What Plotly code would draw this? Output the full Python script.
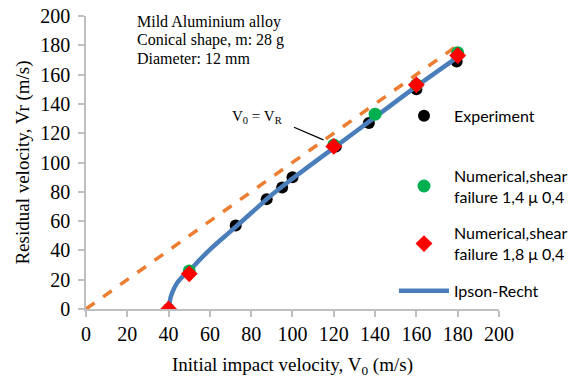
import plotly.graph_objects as go

# Data
exp_v0 = [40, 50, 72.5, 87.5, 95, 100, 121, 137, 160, 179.5]
exp_vr = [0, 25, 57, 75, 83, 90, 111, 127, 150, 169]

num14_v0 = [50, 120, 140, 160, 180]
num14_vr = [26, 112, 133, 153, 175]

num18_v0 = [40, 50, 120, 160, 180]
num18_vr = [0, 24, 111, 153, 173]

ipson_v0 = [40, 41, 42, 44, 46, 50, 55, 60, 70, 80, 90, 100, 120, 140, 160, 181]
ipson_vr = [0, 8, 12, 17.5, 21, 26, 33.5, 40.5, 53, 65.5, 78, 89, 110, 131, 152, 173]

ref_v0 = [0, 180]
ref_vr = [0, 180]

x_ticks = [0, 20, 40, 60, 80, 100, 120, 140, 160, 180, 200]
y_ticks = [0, 20, 40, 60, 80, 100, 120, 140, 160, 180, 200]

info_lines = ["Mild Aluminium alloy", "Conical shape, m: 28 g", "Diameter: 12 mm"]

serif = "Liberation Serif"
sans = "Lato"
axis_col = "#BFBFBF"

fig = go.Figure()
fig.add_trace(go.Scatter(x=ref_v0, y=ref_vr, mode="lines", showlegend=False,
                         line=dict(color="#ED7D31", width=3.5, dash="dash")))
fig.add_trace(go.Scatter(x=exp_v0, y=exp_vr, mode="markers", name="Experiment",
                         legend="legend",
                         marker=dict(color="black", size=12, symbol="circle")))
fig.add_trace(go.Scatter(x=ipson_v0, y=ipson_vr, mode="lines", name="Ipson-Recht",
                         legend="legend2", legendrank=3, legendgroup="g3",
                         line=dict(color="#4A7EBB", width=4.5, shape="spline")))
fig.add_trace(go.Scatter(x=num14_v0, y=num14_vr, mode="markers",
                         name="Numerical,shear<br>failure 1,4 μ 0,4",
                         legend="legend2", legendrank=1, legendgroup="g1",
                         marker=dict(color="#00B050", size=13, symbol="circle")))
fig.add_trace(go.Scatter(x=num18_v0, y=num18_vr, mode="markers",
                         name="Numerical,shear<br>failure 1,8 μ 0,4",
                         legend="legend2", legendrank=2, legendgroup="g2",
                         marker=dict(color="#FF0000", size=13, symbol="diamond")))

leg_font = dict(family=sans, size=16, color="black")

fig.update_layout(
    width=570, height=372,
    margin=dict(l=78, r=0, t=8, b=71, autoexpand=False),
    plot_bgcolor="white", paper_bgcolor="white",
    showlegend=True,
    legend=dict(x=0.626, y=0.659, xanchor="left", yanchor="middle",
                bgcolor="rgba(0,0,0,0)", font=leg_font, itemwidth=50),
    legend2=dict(x=0.626, y=0.513, xanchor="left", yanchor="top",
                 bgcolor="rgba(0,0,0,0)", font=leg_font, itemwidth=50,
                 tracegroupgap=13, traceorder="grouped"),
    xaxis=dict(range=[0, 200], tickvals=x_ticks, showgrid=False, zeroline=False,
               automargin=False, domain=[0, 0.8394],
               showline=True, linecolor=axis_col, linewidth=1.5,
               ticks="outside", ticklen=6, tickcolor=axis_col, tickwidth=1.5,
               ticklabeloverflow="allow",
               tickfont=dict(family=serif, size=20, color="black"),
               title=dict(text="Initial impact velocity, V<sub>0</sub> (m/s)",
                          font=dict(family=serif, size=19, color="black"), standoff=14)),
    yaxis=dict(range=[0, 200], tickvals=y_ticks, showgrid=False, zeroline=False,
               automargin=False,
               showline=True, linecolor=axis_col, linewidth=1.5,
               ticks="outside", ticklen=6, tickcolor=axis_col, tickwidth=1.5,
               ticklabelstandoff=4, ticklabeloverflow="allow",
               tickfont=dict(family=serif, size=20, color="black"),
               title=dict(text="Residual velocity, Vr (m/s)",
                          font=dict(family=serif, size=19, color="black"), standoff=6)),
)

for line, yp in zip(info_lines, [0.981, 0.919, 0.856]):
    fig.add_annotation(x=0.0996, y=yp, xref="paper", yref="paper", xanchor="left",
                       yanchor="middle", showarrow=False, align="left", text=line,
                       font=dict(family=serif, size=16, color="black"))

fig.add_annotation(x=115, y=115.5, ax=100, ay=124.5, axref="x", ayref="y",
                   xref="x", yref="y", showarrow=True, arrowhead=0, arrowwidth=1.3,
                   arrowcolor="black", text="")
fig.add_annotation(x=83, y=131, xref="x", yref="y", showarrow=False,
                   text="V<sub>0</sub> = V<sub>R</sub>",
                   font=dict(family=serif, size=15, color="black"))

fig.write_html("out.html")
